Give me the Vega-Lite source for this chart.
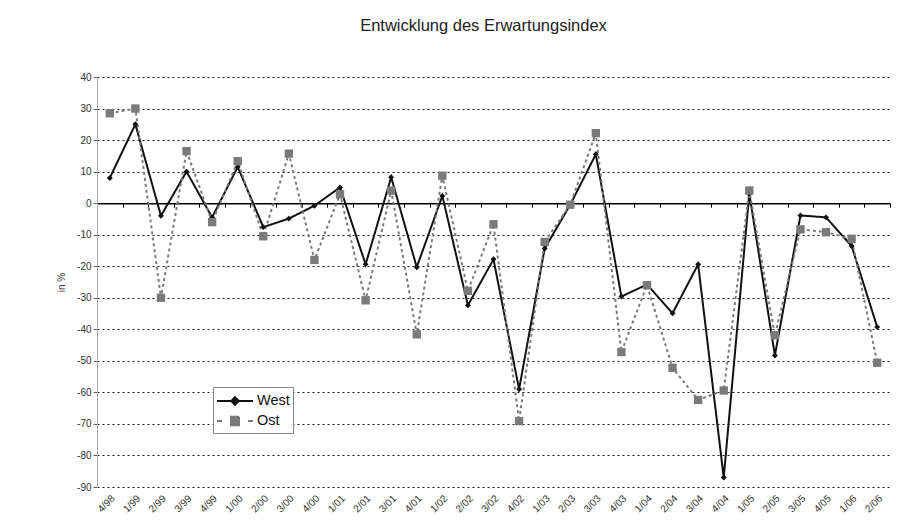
{
  "$schema": "https://vega.github.io/schema/vega-lite/v6.json",
  "width": 793,
  "height": 410,
  "autosize": "none",
  "padding": {"left": 97, "top": 77, "right": 27, "bottom": 44},
  "background": "white",
  "title": {"text": "Entwicklung des Erwartungsindex", "fontSize": 16.5, "font": "Liberation Sans", "fontWeight": "normal", "color": "#222222", "anchor": "middle", "frame": "group", "offset": 38, "dx": -10},
  "config": {"view": {"stroke": null}, "font": "Liberation Sans"},
  "data": {"values": [
    {"q": "4/98", "series": "West", "v": 8}, {"q": "4/98", "series": "Ost", "v": 28.5},
    {"q": "1/99", "series": "West", "v": 25}, {"q": "1/99", "series": "Ost", "v": 30},
    {"q": "2/99", "series": "West", "v": -4}, {"q": "2/99", "series": "Ost", "v": -30},
    {"q": "3/99", "series": "West", "v": 10}, {"q": "3/99", "series": "Ost", "v": 16.5},
    {"q": "4/99", "series": "West", "v": -4.5}, {"q": "4/99", "series": "Ost", "v": -6},
    {"q": "1/00", "series": "West", "v": 11.5}, {"q": "1/00", "series": "Ost", "v": 13.3},
    {"q": "2/00", "series": "West", "v": -7.6}, {"q": "2/00", "series": "Ost", "v": -10.5},
    {"q": "3/00", "series": "West", "v": -4.9}, {"q": "3/00", "series": "Ost", "v": 15.7},
    {"q": "4/00", "series": "West", "v": -0.8}, {"q": "4/00", "series": "Ost", "v": -18},
    {"q": "1/01", "series": "West", "v": 5}, {"q": "1/01", "series": "Ost", "v": 2.8},
    {"q": "2/01", "series": "West", "v": -19.4}, {"q": "2/01", "series": "Ost", "v": -30.8},
    {"q": "3/01", "series": "West", "v": 8.2}, {"q": "3/01", "series": "Ost", "v": 4},
    {"q": "4/01", "series": "West", "v": -20.3}, {"q": "4/01", "series": "Ost", "v": -41.6},
    {"q": "1/02", "series": "West", "v": 2.3}, {"q": "1/02", "series": "Ost", "v": 8.7},
    {"q": "2/02", "series": "West", "v": -32.4}, {"q": "2/02", "series": "Ost", "v": -27.8},
    {"q": "3/02", "series": "West", "v": -17.8}, {"q": "3/02", "series": "Ost", "v": -6.7},
    {"q": "4/02", "series": "West", "v": -59}, {"q": "4/02", "series": "Ost", "v": -69.1},
    {"q": "1/03", "series": "West", "v": -14.4}, {"q": "1/03", "series": "Ost", "v": -12.3},
    {"q": "2/03", "series": "West", "v": -0.5}, {"q": "2/03", "series": "Ost", "v": -0.5},
    {"q": "3/03", "series": "West", "v": 15.5}, {"q": "3/03", "series": "Ost", "v": 22.2},
    {"q": "4/03", "series": "West", "v": -29.6}, {"q": "4/03", "series": "Ost", "v": -47.2},
    {"q": "1/04", "series": "West", "v": -25.8}, {"q": "1/04", "series": "Ost", "v": -26},
    {"q": "2/04", "series": "West", "v": -34.9}, {"q": "2/04", "series": "Ost", "v": -52.2},
    {"q": "3/04", "series": "West", "v": -19.4}, {"q": "3/04", "series": "Ost", "v": -62.4},
    {"q": "4/04", "series": "West", "v": -87}, {"q": "4/04", "series": "Ost", "v": -59.4},
    {"q": "1/05", "series": "West", "v": 3}, {"q": "1/05", "series": "Ost", "v": 4},
    {"q": "2/05", "series": "West", "v": -48.3}, {"q": "2/05", "series": "Ost", "v": -41.9},
    {"q": "3/05", "series": "West", "v": -3.9}, {"q": "3/05", "series": "Ost", "v": -8.3},
    {"q": "4/05", "series": "West", "v": -4.5}, {"q": "4/05", "series": "Ost", "v": -9.2},
    {"q": "1/06", "series": "West", "v": -13.6}, {"q": "1/06", "series": "Ost", "v": -11.3},
    {"q": "2/06", "series": "West", "v": -39.3}, {"q": "2/06", "series": "Ost", "v": -50.6}
  ]},
  "resolve": {"axis": {"x": "independent"}},
  "encoding": {
    "y": {"field": "v", "type": "quantitative",
          "scale": {"domain": [-90, 40], "nice": false, "zero": false},
          "axis": {"title": "in %", "titleFontSize": 10, "titleFontWeight": "normal", "titleColor": "#333333", "titlePadding": 10,
                   "values": [-90, -80, -70, -60, -50, -40, -30, -20, -10, 0, 10, 20, 30, 40],
                   "tickCount": 14,
                   "labelExpr": "datum.value < 0 ? '-' + abs(datum.value) : '' + datum.value",
                   "labelOverlap": false, "labelFontSize": 10, "labelColor": "#333333", "domainColor": "#aaaaaa", "tickColor": "#666666", "tickSize": 4,
                   "grid": true, "gridColor": "#000000", "gridDash": [2, 3], "gridWidth": 1, "gridOpacity": 0.9}}
  },
  "layer": [
    {
      "mark": {"type": "line", "strokeWidth": 2},
      "encoding": {
        "x": {"field": "q", "type": "ordinal", "sort": null,
              "scale": {"type": "band", "paddingInner": 0, "paddingOuter": 0},
              "axis": {"title": null, "domain": false, "ticks": false, "labelAngle": -45, "labelFontSize": 10, "labelColor": "#333333", "labelPadding": 6, "grid": false}},
        "color": {"field": "series", "type": "nominal",
                  "scale": {"domain": ["West", "Ost"], "range": ["#111111", "#7a7a7a"]},
                  "legend": {"title": null, "orient": "none", "legendX": 116, "legendY": 310, "direction": "vertical",
                             "fillColor": "white", "strokeColor": "#888888", "padding": 3, "labelFontSize": 14.5, "labelColor": "#111111",
                             "symbolSize": 400, "rowPadding": 1, "labelOffset": 19,
                             "encode": {"symbols": {"update": {
                               "shape": {"signal": "datum.value === 'West' ? 'M-1,0H2.6M0.8,-0.38L1.18,0L0.8,0.38L0.42,0Z' : 'M-1,0H-0.5M0.4,-0.42H1.2V0.42H0.4ZM2.1,0H2.6'"},
                               "fill": {"signal": "datum.value === 'West' ? '#111111' : '#7a7a7a'"},
                               "stroke": {"signal": "datum.value === 'West' ? '#111111' : '#7a7a7a'"},
                               "strokeWidth": {"value": 2},
                               "strokeDash": {"value": [1, 0]},
                               "opacity": {"value": 1}}}}}},
        "strokeDash": {"condition": {"test": "datum.series === 'Ost'", "value": [3, 3]}, "value": [1, 0]}
      }
    },
    {
      "mark": {"type": "point", "filled": true, "opacity": 1},
      "encoding": {
        "x": {"field": "q", "type": "ordinal", "sort": null,
              "axis": {"orient": "bottom", "offset": -283.8, "labels": false, "title": null, "domain": true, "domainColor": "#000000", "domainWidth": 1.5,
                       "ticks": true, "tickSize": 4, "tickColor": "#000000", "tickBand": "extent", "grid": false}},
        "color": {"field": "series", "type": "nominal"},
        "shape": {"condition": {"test": "datum.series === 'West'", "value": "diamond"}, "value": "square"},
        "size": {"condition": {"test": "datum.series === 'West'", "value": 35}, "value": 70}
      }
    }
  ]
}
